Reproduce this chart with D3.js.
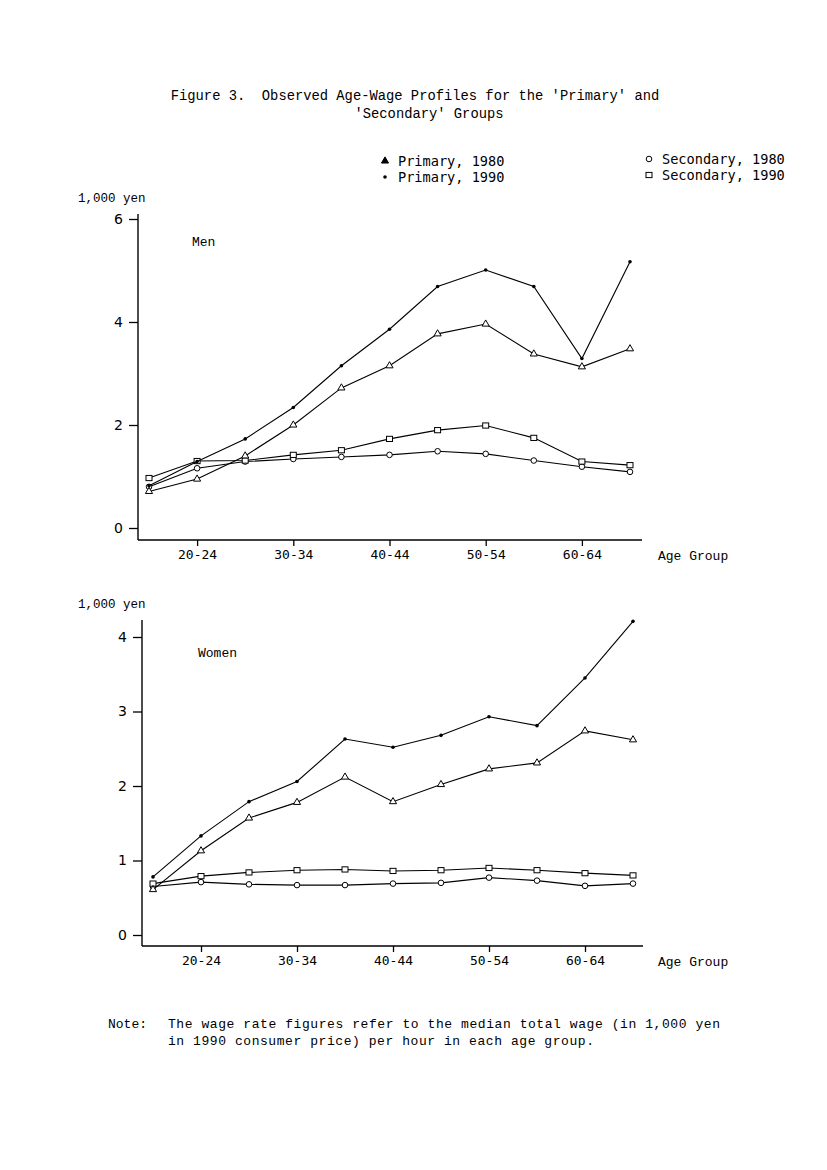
<html>
<head>
<meta charset="utf-8">
<title>Figure 3</title>
<script src="https://d3js.org/d3.v7.min.js"></script>
<style>
body { margin: 0; background: #fff; }
.axis path { display: none; }
.axis line { stroke: #000; stroke-width: 1.3; }
.axis text { font-family: "DejaVu Sans Mono", monospace; font-size: 13px; fill: #000; }
.serif { font-family: "Liberation Mono", monospace; fill: #000; white-space: pre; }
.line { fill: none; stroke: #000; stroke-width: 1.1; }
</style>
</head>
<body>
<div id="chart"></div>
<script>
// age groups and tick labels
var ageGroups = ["15-19","20-24","25-29","30-34","35-39","40-44","45-49","50-54","55-59","60-64","65+"];
var tickLabels = ["20-24","30-34","40-44","50-54","60-64"];

// Men (1,000 yen per hour)
var menPrimary1980   = [0.71, 0.95, 1.40, 2.00, 2.72, 3.15, 3.77, 3.96, 3.38, 3.13, 3.48];
var menPrimary1990   = [0.82, 1.29, 1.73, 2.34, 3.15, 3.86, 4.69, 5.01, 4.69, 3.29, 5.17];
var menSecondary1980 = [0.80, 1.16, 1.29, 1.34, 1.38, 1.42, 1.49, 1.44, 1.31, 1.19, 1.09];
var menSecondary1990 = [0.97, 1.30, 1.31, 1.42, 1.51, 1.73, 1.90, 1.99, 1.75, 1.29, 1.22];

// Women
var womenPrimary1980   = [0.61, 1.13, 1.57, 1.78, 2.12, 1.79, 2.02, 2.23, 2.31, 2.74, 2.62];
var womenPrimary1990   = [0.78, 1.33, 1.79, 2.06, 2.63, 2.52, 2.68, 2.93, 2.81, 3.45, 4.21];
var womenSecondary1980 = [0.65, 0.71, 0.68, 0.67, 0.67, 0.69, 0.70, 0.77, 0.73, 0.66, 0.69];
var womenSecondary1990 = [0.69, 0.79, 0.84, 0.87, 0.88, 0.86, 0.87, 0.90, 0.87, 0.83, 0.80];

var menTicks = [0, 2, 4, 6];
var womenTicks = [0, 1, 2, 3, 4];

var svg = d3.select("#chart").append("svg")
    .attr("width", 827)
    .attr("height", 1170);

// title
svg.append("text").attr("class", "serif").attr("x", 415).attr("y", 100)
    .attr("text-anchor", "middle").style("font-size", "13.8px")
    .text("Figure 3.  Observed Age-Wage Profiles for the 'Primary' and");
svg.append("text").attr("class", "serif").attr("x", 429).attr("y", 118)
    .attr("text-anchor", "middle").style("font-size", "13.8px")
    .text("'Secondary' Groups");

// marker drawing
function marker(g, type, cx, cy, fillTri) {
  if (type == "triangle") {
    g.append("path").attr("d", d3.symbol().type(d3.symbolTriangle).size(22)())
      .attr("transform", "translate(" + cx + "," + cy + ")")
      .attr("fill", fillTri ? "#000" : "#fff").attr("stroke", "#000").attr("stroke-width", 1);
  } else if (type == "dot") {
    g.append("circle").attr("cx", cx).attr("cy", cy).attr("r", 1.8).attr("fill", "#000");
  } else if (type == "circle") {
    g.append("circle").attr("cx", cx).attr("cy", cy).attr("r", 2.8)
      .attr("fill", "#fff").attr("stroke", "#000").attr("stroke-width", 1);
  } else {
    g.append("rect").attr("x", cx - 3).attr("y", cy - 2.6).attr("width", 6).attr("height", 5.2)
      .attr("fill", "#fff").attr("stroke", "#000").attr("stroke-width", 1);
  }
}

// legend
var legend = [
  {label: "Primary, 1980", type: "triangle", x: 385, y: 161},
  {label: "Primary, 1990", type: "dot", x: 385, y: 177},
  {label: "Secondary, 1980", type: "circle", x: 649, y: 159},
  {label: "Secondary, 1990", type: "square", x: 649, y: 175}
];
var lg = svg.append("g");
legend.forEach(function(d) {
  marker(lg, d.type, d.x, d.y, true);
  lg.append("text").attr("x", d.x + 13).attr("y", d.y + 5)
    .style("font-family", "DejaVu Sans Mono, monospace").style("font-size", "13.6px")
    .text(d.label);
});

function panel(cfg) {
  var x = d3.scalePoint().domain(ageGroups).range([cfg.x0, cfg.x1]);
  var y = d3.scaleLinear().domain([0, cfg.max]).range([cfg.y0, cfg.y1]);
  var g = svg.append("g");

  // axis lines
  g.append("line").attr("x1", cfg.axisX).attr("x2", cfg.axisX)
    .attr("y1", cfg.axisTop).attr("y2", cfg.axisY)
    .attr("stroke", "#000").attr("stroke-width", 1.4);
  g.append("line").attr("x1", cfg.axisX).attr("x2", cfg.axisRight)
    .attr("y1", cfg.axisY).attr("y2", cfg.axisY)
    .attr("stroke", "#000").attr("stroke-width", 1.4);

  // y axis
  g.append("g").attr("class", "axis")
    .attr("transform", "translate(" + cfg.axisX + ",0)")
    .call(d3.axisLeft(y).tickValues(cfg.ticks).tickSize(9).tickPadding(6).tickFormat(d3.format("d")))
    .selectAll("text").style("font-family", "DejaVu Sans, sans-serif").style("font-size", "14px");

  // x axis
  g.append("g").attr("class", "axis")
    .attr("transform", "translate(0," + cfg.axisY + ")")
    .call(d3.axisBottom(x).tickValues(tickLabels).tickSize(6).tickPadding(4));

  g.append("text").attr("class", "serif").attr("x", 78).attr("y", cfg.axisTop - 12)
    .style("font-size", "12.5px").text("1,000 yen");
  g.append("text").attr("class", "serif").attr("x", 658).attr("y", cfg.axisY + 20)
    .style("font-size", "13px").text("Age Group");
  g.append("text").attr("class", "serif").attr("x", cfg.labelX).attr("y", cfg.labelY)
    .style("font-size", "13px").text(cfg.label);

  var line = d3.line()
    .x(function(d, i) { return x(ageGroups[i]); })
    .y(function(d) { return y(d); });

  cfg.series.forEach(function(s) {
    g.append("path").datum(s.values).attr("class", "line").attr("d", line);
    s.values.forEach(function(v, i) {
      marker(g, s.type, x(ageGroups[i]), y(v), false);
    });
  });
}

panel({
  x0: 149, x1: 630, y0: 528, y1: 219, max: 6, ticks: menTicks,
  axisX: 138, axisTop: 214, axisY: 540, axisRight: 642,
  label: "Men", labelX: 192, labelY: 246,
  series: [
    {values: menSecondary1980, type: "circle"},
    {values: menSecondary1990, type: "square"},
    {values: menPrimary1980, type: "triangle"},
    {values: menPrimary1990, type: "dot"}
  ]
});

panel({
  x0: 153, x1: 633, y0: 935, y1: 637, max: 4, ticks: womenTicks,
  axisX: 142, axisTop: 620, axisY: 946, axisRight: 643,
  label: "Women", labelX: 198, labelY: 657,
  series: [
    {values: womenSecondary1980, type: "circle"},
    {values: womenSecondary1990, type: "square"},
    {values: womenPrimary1980, type: "triangle"},
    {values: womenPrimary1990, type: "dot"}
  ]
});

// note
svg.append("text").attr("class", "serif").attr("x", 108).attr("y", 1028)
  .style("font-size", "13px").text("Note:");
svg.append("text").attr("class", "serif").attr("x", 168).attr("y", 1028)
  .style("font-size", "13px").attr("textLength", 552)
  .text("The wage rate figures refer to the median total wage (in 1,000 yen");
svg.append("text").attr("class", "serif").attr("x", 168).attr("y", 1045)
  .style("font-size", "13px").attr("textLength", 426)
  .text("in 1990 consumer price) per hour in each age group.");
</script>
</body>
</html>
